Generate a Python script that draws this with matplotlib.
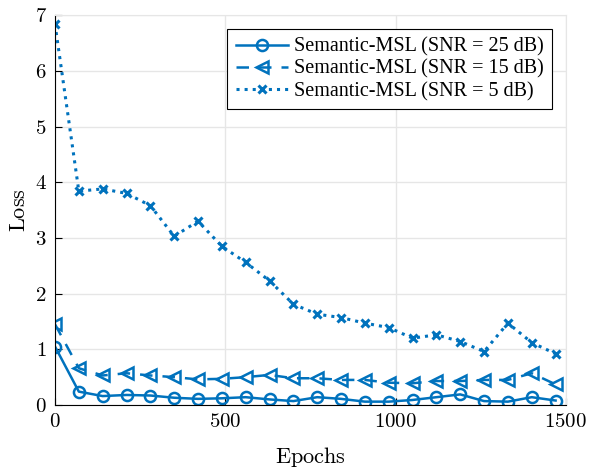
import matplotlib.pyplot as plt
from matplotlib.ticker import FuncFormatter

plt.rcParams['mathtext.fontset'] = 'cm'
plt.rcParams['font.family'] = 'Liberation Serif'

epochs = [0, 70, 140, 210, 280, 350, 420, 490, 560, 630, 700,
          770, 840, 910, 980, 1050, 1120, 1190, 1260, 1330, 1400, 1470]
loss_25 = [1.05, 0.24, 0.16, 0.18, 0.17, 0.13, 0.11, 0.12, 0.14, 0.10, 0.07,
           0.14, 0.11, 0.06, 0.06, 0.09, 0.14, 0.19, 0.07, 0.06, 0.14, 0.08]
loss_15 = [1.45, 0.66, 0.53, 0.57, 0.53, 0.50, 0.46, 0.47, 0.50, 0.54, 0.48,
           0.48, 0.45, 0.45, 0.40, 0.39, 0.43, 0.43, 0.45, 0.45, 0.57, 0.37]
loss_5 = [6.84, 3.84, 3.88, 3.80, 3.58, 3.03, 3.30, 2.85, 2.56, 2.23, 1.81,
          1.63, 1.57, 1.47, 1.39, 1.20, 1.26, 1.14, 0.96, 1.47, 1.12, 0.92]
labels = ['Semantic-MSL (SNR = 25 dB)', 'Semantic-MSL (SNR = 15 dB)',
          'Semantic-MSL (SNR = 5 dB)']

c = '#0072BD'
fig = plt.figure(figsize=(5.9, 4.74), dpi=100)
ax = fig.add_axes([0.0932, 0.1456, 0.8658, 0.8224])

ax.plot(epochs, loss_25, '-', color=c, lw=1.8, marker='o', ms=8,
        mfc='none', mew=1.8, label=labels[0])
ax.plot(epochs, loss_15, '--', color=c, lw=1.8, marker='<', ms=9,
        mfc='none', mew=1.8, dashes=(5, 4), label=labels[1])
ax.plot(epochs, loss_5, ':', color=c, lw=2.2, marker='x', ms=6,
        mew=2.2, label=labels[2])

ax.set_xlim(0, 1500)
ax.set_ylim(0, 7)
ax.set_xticks([0, 500, 1000, 1500])
ax.set_yticks(range(8))
fmt = FuncFormatter(lambda v, p: r'$%d$' % v)
ax.xaxis.set_major_formatter(fmt)
ax.yaxis.set_major_formatter(fmt)
ax.tick_params(direction='in', labelsize=15, length=5, width=0.8)
ax.tick_params(axis='y', pad=6)
ax.tick_params(axis='x', pad=6)
ax.grid(True, color='#e6e6e6', lw=1)
ax.set_axisbelow(True)
for s in ['top', 'right']:
    ax.spines[s].set_color('#e6e6e6')
ax.set_xlabel(r'$\mathrm{Epochs}$', fontsize=16, labelpad=9)
ax.set_ylabel(r'$\mathrm{Loss}$', fontsize=16, labelpad=3)

leg = ax.legend(loc='upper right', fontsize=14.5, fancybox=False,
                edgecolor='black', framealpha=1, handlelength=2.6,
                borderaxespad=0.7, labelspacing=0.15, handletextpad=0.3,
                borderpad=0.4)
leg.get_frame().set_linewidth(0.8)

fig.savefig('out.png')
